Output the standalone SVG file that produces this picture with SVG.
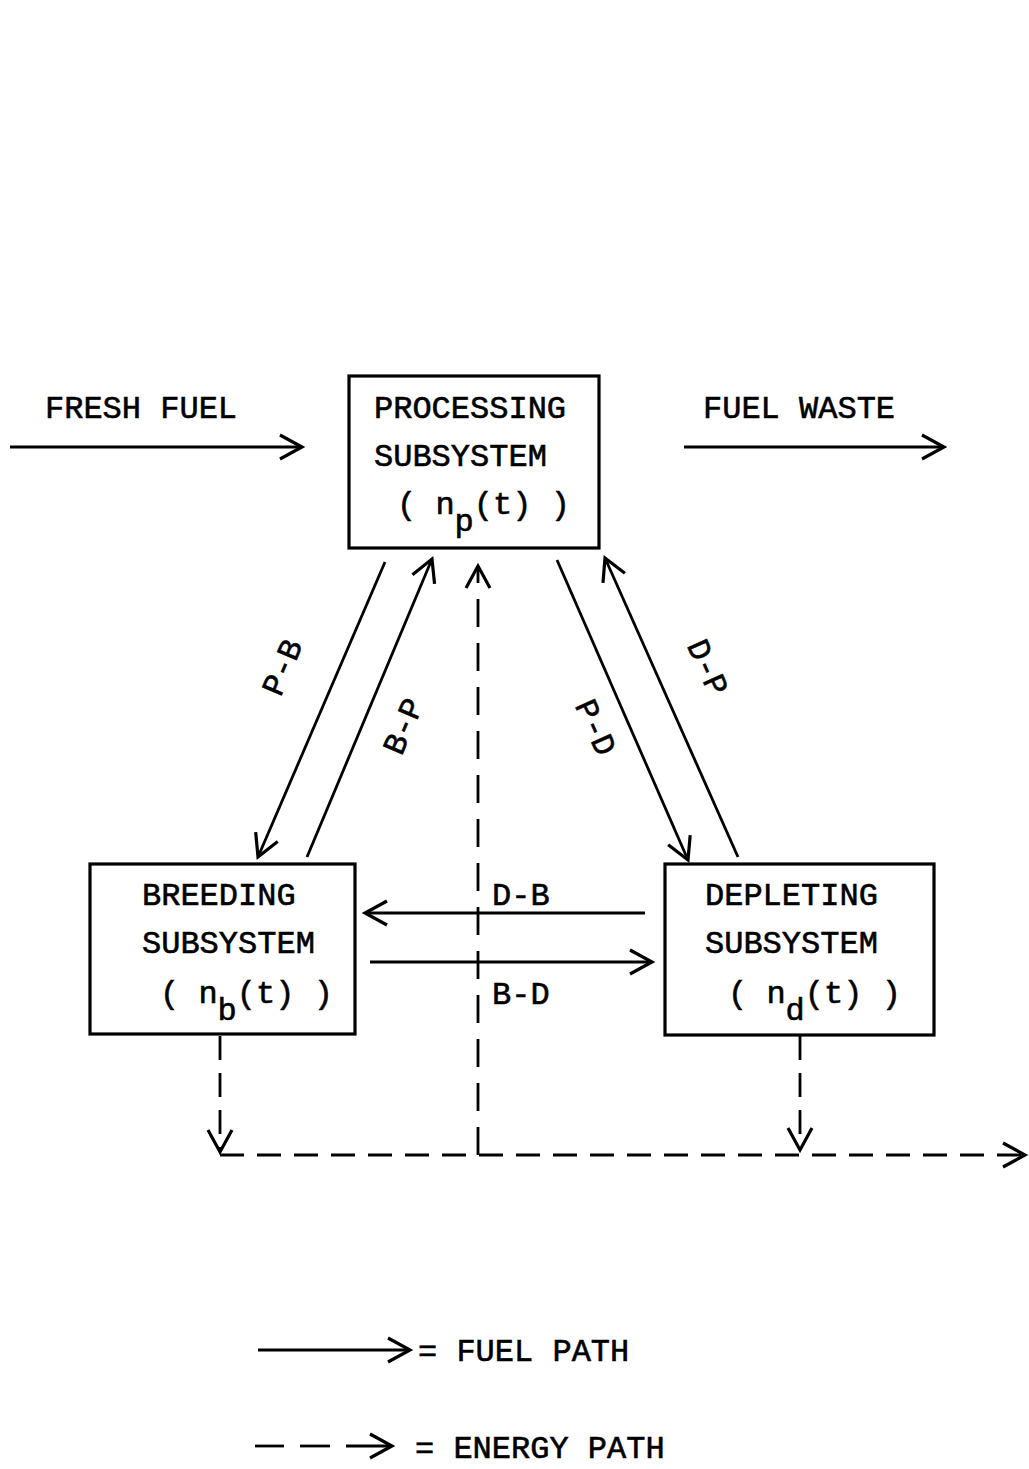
<svg xmlns="http://www.w3.org/2000/svg" width="1029" height="1469" viewBox="0 0 1029 1469">
<defs>
<marker id="ah" markerUnits="userSpaceOnUse" markerWidth="30" markerHeight="30" refX="24" refY="14" orient="auto" overflow="visible">
<path d="M2,2 L24,14 L2,26" fill="none" stroke="#000" stroke-width="3.2" stroke-linejoin="miter"/>
</marker>
</defs>
<style>
text{font-family:"Liberation Mono","DejaVu Sans Mono",monospace;font-size:32px;fill:#000;stroke:#000;stroke-width:0.6}
.box{fill:#fff;stroke:#000;stroke-width:3.2}
.fuel{fill:none;stroke:#000;stroke-width:2.8}
.energy{fill:none;stroke:#000;stroke-width:2.8;stroke-dasharray:24 13}
.lbl{text-anchor:middle;dominant-baseline:central}
</style>
<rect width="1029" height="1469" fill="#fff"/>

<g id="connectors">
<line class="fuel" x1="10" y1="447" x2="302" y2="447" marker-end="url(#ah)"/>
<line class="fuel" x1="684" y1="447" x2="944" y2="447" marker-end="url(#ah)"/>
<line class="fuel" x1="385" y1="562" x2="258" y2="857" marker-end="url(#ah)"/>
<line class="fuel" x1="307" y1="857" x2="432" y2="559" marker-end="url(#ah)"/>
<line class="fuel" x1="557" y1="560" x2="688" y2="860" marker-end="url(#ah)"/>
<line class="fuel" x1="738" y1="857" x2="605" y2="558" marker-end="url(#ah)"/>
<line class="fuel" x1="645" y1="913" x2="365" y2="913" marker-end="url(#ah)"/>
<line class="fuel" x1="370" y1="962" x2="652" y2="962" marker-end="url(#ah)"/>
<line class="energy" x1="478" y1="1155" x2="478" y2="566" marker-end="url(#ah)" style="stroke-dasharray:28 16"/>
<line class="energy" x1="220" y1="1036" x2="220" y2="1152" marker-end="url(#ah)"/>
<line class="energy" x1="800" y1="1036" x2="800" y2="1150" marker-end="url(#ah)"/>
<line class="energy" x1="220" y1="1155" x2="1025" y2="1155" marker-end="url(#ah)"/>
<text class="lbl" transform="translate(284,668) rotate(-67)">P-B</text>
<text class="lbl" transform="translate(405,727) rotate(-67)">B-P</text>
<text class="lbl" transform="translate(594,728) rotate(66)">P-D</text>
<text class="lbl" transform="translate(706,668) rotate(66)">D-P</text>
<text x="492" y="905">D-B</text>
<text x="492" y="1004">B-D</text>
<text x="45" y="418">FRESH FUEL</text>
<text x="703" y="418">FUEL WASTE</text>
</g>

<g id="processing">
<rect class="box" x="349" y="376" width="250" height="172"/>
<text x="374" y="418">PROCESSING</text>
<text x="374" y="466">SUBSYSTEM</text>
<text x="397" y="514">( n<tspan dy="17">p</tspan><tspan dy="-17">(t) )</tspan></text>
</g>

<g id="breeding">
<rect class="box" x="90" y="864" width="265" height="170"/>
<text x="142" y="905">BREEDING</text>
<text x="142" y="953">SUBSYSTEM</text>
<text x="160" y="1003">( n<tspan dy="17">b</tspan><tspan dy="-17">(t)  )</tspan></text>
</g>

<g id="depleting">
<rect class="box" x="665" y="864" width="269" height="171"/>
<text x="705" y="905">DEPLETING</text>
<text x="705" y="953">SUBSYSTEM</text>
<text x="728" y="1003">( n<tspan dy="17">d</tspan><tspan dy="-17">(t) )</tspan></text>
</g>

<g id="legend">
<line class="fuel" x1="258" y1="1350" x2="410" y2="1350" marker-end="url(#ah)" stroke-width="3"/>
<text x="418" y="1361">= FUEL PATH</text>
<line class="fuel" x1="255" y1="1446" x2="284" y2="1446" stroke-width="3"/>
<line class="fuel" x1="300" y1="1446" x2="330" y2="1446" stroke-width="3"/>
<line class="fuel" x1="346" y1="1446" x2="392" y2="1446" marker-end="url(#ah)" stroke-width="3"/>
<text x="415" y="1458">= ENERGY PATH</text>
</g>
</svg>
